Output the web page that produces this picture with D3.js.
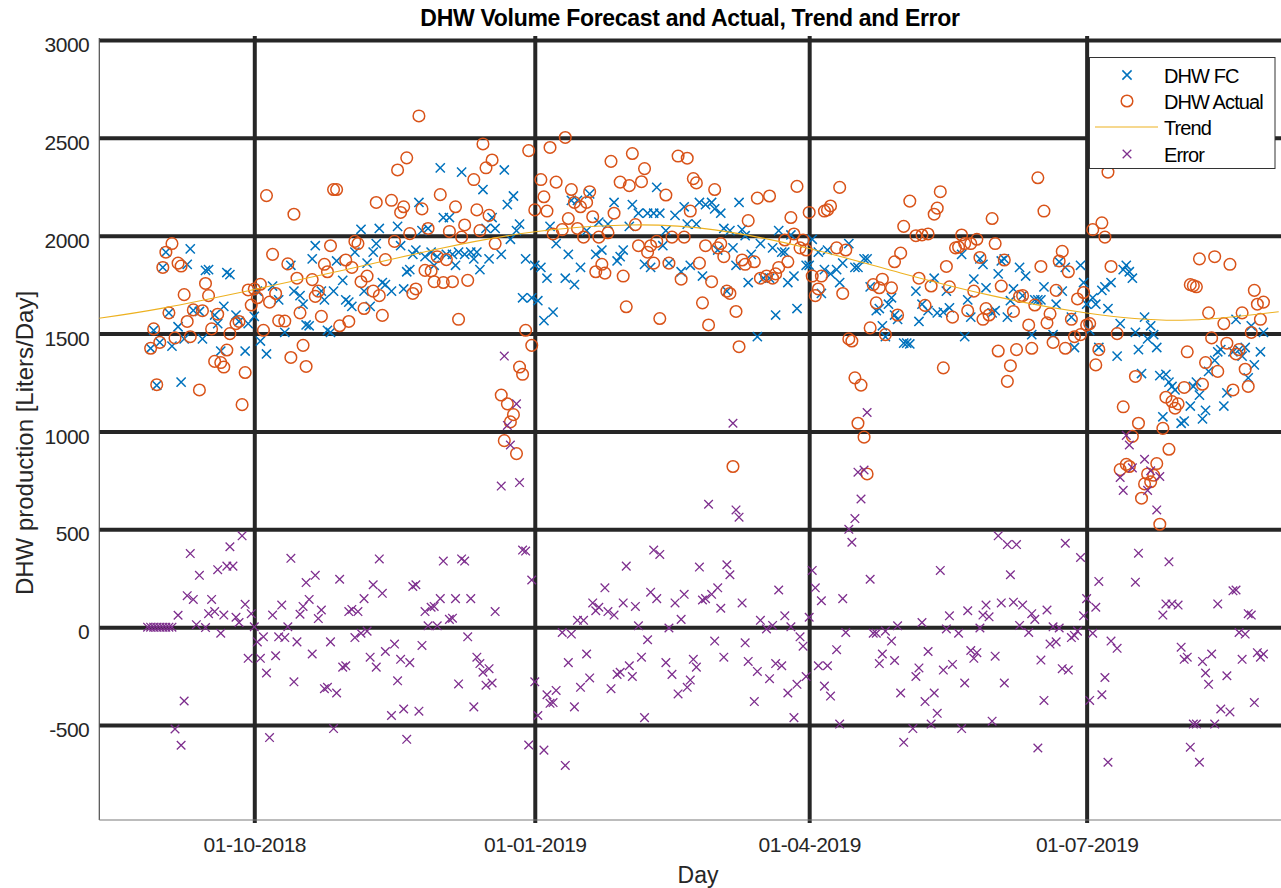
<!DOCTYPE html>
<html>
<head>
<meta charset="utf-8">
<script src="https://cdn.jsdelivr.net/npm/d3@7"></script>
<style>
  body { margin: 0; background: #fff; }
  text { font-family: "Liberation Sans", Arial, sans-serif; }
</style>
</head>
<body>
<svg id="chart" width="1281" height="888"></svg>
<script>
'use strict';

// day 0 of the series, and the axis limits
var startDay = new Date(2018, 7, 27);
var xLimits = [new Date(2018, 7, 11, 4), new Date(2019, 8, 2, 18)];
var yLimits = [-985, 3000];
var xTickDates = [new Date(2018, 9, 1), new Date(2019, 0, 1), new Date(2019, 3, 1), new Date(2019, 6, 1)];
var yTickValues = [-500, 0, 500, 1000, 1500, 2000, 2500, 3000];

// [day since startDay, liters/day]
var fcPoints = [
  [1,1425],[2,1517],[3,1236],[4,1455],[5,1838],[6,1916],[7,1606],[8,1436],[10,1535],[11,1252],[12,1473],[13,1854],[14,1933],[15,1619],[17,1613],[18,1473],[19,1823],[20,1827],[22,1595],[23,1551],[24,1411],[25,1639],[26,1812],[27,1801],[29,1595],[30,1562],[32,1411],[33,1551],[35,1588],[36,1717],[37,1462],[39,1396],[41,1743],[43,1672],[45,1506],[47,1849],[48,1717],[50,1694],[51,1650],[52,1544],[53,1540],[54,1882],[55,1949],[57,1717],[58,1672],[59,1517],[60,1506],[61,1717],[62,1871],
  [64,1772],[65,1672],[66,1661],[67,1639],[68,1916],[70,2033],[71,1717],[72,1860],[73,1639],[74,1916],[75,1960],[76,2037],[77,1761],[78,1750],[80,1717],[82,2048],[83,1949],[84,1728],[85,1816],[86,1827],[87,1905],[88,1927],[89,2170],[90,2026],[91,1893],[92,2037],[93,1916],[94,1849],[95,1893],[96,2347],[97,2093],[98,1905],[99,2093],[100,1905],[101,1849],[102,1916],[103,2325],[104,1905],[106,1916],[107,1882],[108,1916],[109,1827],[110,2236],[111,2037],[112,1882],[113,2093],[114,2037],[116,1905],[117,2336],[118,2159],[119,1982],[120,2203],[121,2026],[122,2059],[123,1683],[124,1882],
  [126,1683],[127,1849],[128,1668],[129,1838],[130,1566],[131,1783],[132,2048],[133,1610],[134,1960],[137,1783],[138,1905],[139,2181],[140,1750],[141,2181],[142,1838],[144,2026],[145,2214],[147,1905],[148,2070],[149,1927],[151,2059],[153,2170],[154,1871],[155,1893],[156,1927],[158,2048],[159,2159],[161,2115],[163,1854],[164,2115],[165,1838],[166,2115],[167,2247],[168,2115],[169,1949],[170,2026],[171,1860],[173,2104],[175,1816],[176,2148],[177,2059],[178,1849],[180,2059],[181,2170],[182,1794],[183,2159],[185,2170],[186,2137],[187,1927],
  [188,2115],[189,2037],[190,1717],[191,2026],[192,1938],[193,1849],[194,2170],[195,2031],[196,2000],[197,1761],[198,1905],[200,1484],[201,1960],[202,1783],[204,1783],[205,1938],[206,1595],[207,2026],[208,1916],[209,1916],[210,1761],[211,2004],[212,1794],[213,1628],[216,1849],[217,1849],[218,1982],[220,1916],[221,1705],[222,1827],[223,1927],[224,1805],[226,1827],[227,1761],[228,1860],[230,1960],[232,1838],[233,1838],[235,1882],[236,1882],[237,1739],[239,1617],[240,1628],[241,1540],[242,1484],[243,1650],[244,1683],[245,1595],[246,1573],[248,1451],[249,1451],
  [250,1447],[252,1717],[253,1562],[254,1650],[256,1617],[258,1783],[259,1606],[261,1610],[262,1717],[263,1632],[267,1905],[268,1484],[269,1672],[270,1584],[271,1778],[273,1882],[274,1854],[275,1734],[277,1606],[278,1617],[279,1805],[280,1871],[281,1882],[282,1584],[283,1668],[284,1728],[286,1838],[287,1694],[288,1794],[290,1495],[291,1672],[292,1672],[293,1672],[294,1739],[297,1495],[298,1650],[299,1867],[300,1717],[301,1838],[303,1584],[304,1429],[306,1849],[307,1761],[308,1650],[309,1517],[310,1683],
  [311,1650],[312,1429],[313,1721],[314,1739],[315,1628],[316,1761],[318,1385],[319,1551],[320,1827],[321,1849],[322,1816],[323,1783],[324,1506],[325,1418],[326,1296],[327,1584],[328,1473],[329,1540],[330,1495],[331,1429],[332,1285],[333,1075],[334,1292],[335,1252],[336,1230],[337,1212],[339,1042],[340,1053],[342,1130],[343,1230],[344,1252],[345,1186],[346,1064],[347,1108],[348,1307],[350,1363],[351,1407],[352,1418],[353,1130],[354,1197],[356,1407],[357,1573],[358,1418],[359,1385],[360,1429],[361,1274],[362,1540],[363,1340],[365,1407],[366,1506]
];

var actualPoints = [
  [1,1425],[2,1524],[3,1239],[4,1455],[5,1838],[6,1916],[7,1606],[8,1960],[9,1478],[10,1860],[11,1845],[12,1699],[13,1562],[14,1484],[15,1621],[17,1212],[18,1617],[19,1756],[20,1694],[21,1524],[22,1358],[23,1599],[24,1352],[25,1329],[26,1416],[27,1500],[29,1551],[30,1562],[31,1137],[32,1301],[33,1723],[34,1646],[35,1728],[36,1683],[37,1752],[38,1517],[39,2205],[40,1661],[41,1905],[42,1705],[43,1566],[45,1564],[46,1856],[47,1378],[48,2110],[49,1783],[50,1606],[51,1440],[52,1332],[54,1776],[55,1690],[56,1717],[57,1588],[58,1854],[59,1816],[60,1949],[61,2236],[62,2236],[63,1540],
  [65,1876],[66,1562],[67,1838],[68,1971],[69,1960],[70,1765],[71,1628],[72,1794],[74,1717],[75,2170],[76,1694],[77,1593],[78,1878],[80,2181],[81,1971],[82,2336],[83,2119],[84,2148],[85,2398],[86,2011],[87,1705],[88,1728],[89,2612],[90,2137],[91,1823],[92,2037],[93,1820],[94,1765],[95,1893],[96,2210],[97,1761],[98,1878],[99,2022],[100,1765],[101,2148],[102,1573],[103,1993],[104,2055],[105,1772],[107,2287],[108,2132],[109,2026],[110,2469],[111,2347],[112,2104],[113,2387],[114,1960],[116,1186],[117,953],[118,1141],[119,1049],[120,1086],[121,887],[122,1329],[123,1292],[124,1517],[125,2435],[126,1440],
  [127,2132],[129,2287],[130,2199],[131,2126],[132,2451],[133,2009],[134,2274],[136,2031],[137,2502],[138,2088],[139,2236],[140,2170],[141,2037],[142,2148],[143,1993],[144,2170],[145,2225],[146,2097],[147,1816],[148,1993],[149,1854],[150,1809],[151,2015],[152,2380],[153,2115],[155,2274],[156,1794],[157,1637],[158,2256],[159,2420],[160,2057],[161,1949],[162,2276],[163,2343],[164,1916],[165,1949],[166,1860],[167,1971],[168,1577],[170,2208],[171,1860],[172,1993],[174,2407],[175,1778],[176,1993],[177,2396],[178,2126],[179,2292],[180,2270],[181,1860],[182,1657],[183,1949],[184,1544],[185,1765],[186,2236],[187,1938],
  [188,1960],[189,1893],[190,1717],[191,1705],[192,821],[193,1613],[194,1433],[195,1876],[196,1854],[197,2077],[199,1867],[200,2192],[201,1783],[203,1794],[204,2203],[205,1783],[206,1805],[207,1838],[209,1978],[210,1867],[211,2093],[212,2009],[213,2252],[214,1938],[215,1978],[216,1927],[217,2119],[218,1794],[219,1694],[220,1728],[221,1794],[222,2126],[223,2132],[224,2152],[226,1938],[227,2247],[228,1705],[229,1927],[230,1473],[231,1462],[232,1274],[233,1042],[234,1237],[235,971],[236,783],[237,1529],[238,1750],[239,1657],[240,1734],[241,1778],[242,1495],[244,1734],[245,1867],[246,1595],[247,1911],[248,2048],
  [250,2177],[252,2000],[253,1783],[254,2004],[255,1644],[256,2009],[257,1743],[258,2110],[259,2141],[260,2225],[261,1325],[262,1843],[263,1739],[264,1584],[265,1938],[266,1942],[267,2004],[268,1960],[269,1617],[270,1960],[271,1717],[272,1982],[273,1889],[274,1573],[275,1628],[276,1595],[277,2088],[278,1960],[279,1411],[280,1743],[281,1876],[282,1256],[283,1336],[284,1613],[285,1418],[286,1690],[287,1694],[289,1544],[290,1425],[291,1646],[292,2296],[293,1843],[294,2126],[295,1555],[296,1601],[297,1455],[298,1721],[299,1871],[300,1920],[301,1425],[302,1816],[303,1573],[304,1484],[305,1677],[306,1495],[307,1710],[308,1544],[309,1551],[310,2031],[311,1340],[312,1418],
  [313,2066],[314,1993],[315,2325],[316,1843],[318,1500],[319,805],[320,1126],[321,832],[322,821],[323,975],[324,1281],[325,1042],[326,659],[327,732],[328,783],[329,743],[330,776],[331,836],[332,526],[333,1016],[334,1175],[335,909],[336,1153],[337,1119],[338,1141],[340,1225],[341,1407],[342,1750],[343,1745],[344,1739],[345,1882],[346,1241],[347,1352],[348,1606],[349,1478],[350,1893],[351,1307],[353,1551],[354,1451],[355,1854],[356,1212],[357,1396],[358,1418],[359,1606],[360,1318],[361,1230],[362,1506],[363,1721],[364,1650],[365,1573],[366,1661]
];

var errorPoints = [
  [0,0],[1,0],[2,0],[3,0],[4,0],[5,0],[6,0],[7,0],[8,0],[9,-520],[10,61],[11,-603],[12,-377],[13,161],[14,376],[15,142],[16,13],[17,265],[19,-2],[20,69],[21,142],[22,80],[23,294],[24,-31],[25,62],[26,312],[27,411],[28,312],[29,51],[30,24],[31,467],[32,117],[33,-159],[34,69],[35,2],[36,-75],[37,-159],[38,-49],[39,-234],[40,-564],[41,62],[42,-146],[43,-49],[44,113],[45,-53],[46,2],[47,352],[48,-279],[49,-75],[50,66],[51,106],[52,228],[53,142],[54,-137],[55,265],[56,44],[57,88],[58,-314],[59,-307],[60,-75],[61,-518],[62,-336],[63,245],
  [64,-204],[65,-197],[66,80],[67,91],[68,-53],[69,80],[70,-31],[71,146],[72,-20],[73,-153],[74,217],[75,-204],[76,349],[77,173],[78,-124],[80,-451],[81,-86],[82,-274],[83,-164],[84,-418],[85,-573],[86,-181],[87,208],[88,217],[89,-429],[90,-93],[91,80],[92,7],[93,102],[94,106],[95,7],[96,146],[97,338],[99,40],[100,46],[101,146],[102,-290],[103,349],[104,338],[105,-49],[106,146],[107,-407],[108,-153],[109,-186],[110,-230],[111,-296],[112,-212],[113,-285],[114,80],[116,721],[117,1385],[118,1031],[119,931],[121,1141],[122,739],[123,394],[124,389],
  [125,-602],[126,241],[127,-279],[128,-451],[130,-628],[131,-345],[132,-389],[133,-385],[134,-323],[136,-27],[137,-706],[138,-181],[139,-35],[140,-407],[141,35],[142,-307],[143,35],[144,-137],[145,-259],[146,124],[147,84],[148,102],[150,201],[151,80],[152,-314],[153,62],[154,-241],[155,-230],[156,124],[157,312],[158,-197],[159,-252],[160,106],[161,7],[162,-153],[163,-462],[164,-64],[165,179],[166,394],[167,146],[168,372],[170,-181],[171,-4],[172,-241],[173,124],[174,-341],[175,40],[176,168],[177,-307],[178,-270],[179,-164],[180,-204],[181,307],[182,139],[183,146],[184,628],[185,168],[186,-71],[187,201],
  [188,97],[189,-153],[190,319],[191,268],[192,1042],[193,599],[194,562],[195,124],[196,-80],[197,-175],[199,-380],[200,-226],[201,35],[203,-9],[204,-263],[205,9],[206,-186],[207,190],[208,-197],[209,58],[210,-336],[211,2],[212,-462],[213,-292],[214,-49],[215,-97],[216,-252],[217,51],[218,290],[219,201],[220,-197],[221,135],[222,-301],[223,-197],[224,-352],[226,-115],[227,-495],[228,146],[229,-27],[230,500],[231,434],[232,555],[233,792],[234,655],[235,803],[236,1097],[237,245],[238,-31],[239,-31],[240,-186],[241,-137],[242,-20],[244,-71],[245,-170],[246,7],[247,-336],[248,-588],
  [251,-518],[252,-252],[253,-208],[254,24],[255,-380],[256,-124],[257,-495],[258,-336],[259,-440],[260,290],[261,-219],[262,-9],[263,58],[264,-190],[266,-31],[267,-518],[268,-285],[269,84],[270,-119],[271,-159],[272,-130],[273,-4],[274,62],[275,113],[276,53],[277,-480],[278,-148],[279,467],[280,124],[281,-285],[282,422],[283,268],[284,128],[285,422],[286,9],[287,113],[289,-27],[290,69],[291,40],[292,-617],[293,-168],[294,-374],[295,88],[296,-86],[297,2],[298,-75],[299,-4],[300,-212],[301,429],[302,-219],[303,-53],[304,-42],[305,-20],[306,356],[307,58],[308,146],[309,-374],
  [310,-31],[311,102],[312,234],[313,-345],[314,-257],[315,-690],[316,-71],[318,-108],[319,765],[320,699],[321,980],[322,931],[323,814],[324,230],[325,378],[327,858],[328,699],[329,799],[331,599],[332,770],[333,62],[334,119],[335,334],[336,119],[338,113],[339,-102],[340,-164],[341,-153],[342,-613],[343,-495],[344,-495],[345,-690],[346,-175],[347,-234],[348,-292],[349,-137],[350,-495],[351,119],[352,-418],[354,-248],[355,-433],[356,186],[357,190],[358,-27],[359,-164],[360,-35],[361,69],[362,62],[363,-385],[364,-130],[365,-153],[366,-137]
];

// smooth trend, read at month starts
var trendDates = ["2018-08-11","2018-09-01","2018-10-01","2018-11-01","2018-12-01","2019-01-01","2019-02-01",
                  "2019-03-01","2019-04-01","2019-05-01","2019-06-01","2019-07-01","2019-08-01","2019-09-02"];
var trendValues = [1578, 1630, 1725, 1830, 1935, 2020, 2055, 2030, 1935, 1810, 1690, 1605, 1568, 1612];

var seriesNames = ["DHW FC", "DHW Actual", "Trend", "Error"];
var colors = { fc: "#0072BD", actual: "#D95319", trend: "#EDB120", error: "#7E2F8E" };

// plot box in pixels
var plotLeft = 99.3, plotRight = 1281, plotTop = 40, plotBottom = 820;

var svg = d3.select("#chart");

var x = d3.scaleTime().domain(xLimits).range([plotLeft, plotRight]);
var y = d3.scaleLinear().domain(yLimits).range([plotBottom, plotTop]);

var parseDay = d3.timeParse("%Y-%m-%d");
function dayToDate(d) { return d3.timeDay.offset(startDay, d); }

svg.append("rect").attr("width", 1281).attr("height", 888).attr("fill", "#fff");

svg.append("defs").append("clipPath").attr("id", "plotclip")
    .append("rect").attr("x", plotLeft).attr("y", plotTop - 4)
    .attr("width", plotRight - plotLeft).attr("height", plotBottom - plotTop + 4);

// thick grid lines come from the axes themselves
var yAxis = svg.append("g")
    .attr("transform", "translate(" + plotLeft + ",0)")
    .call(d3.axisLeft(y).tickValues(yTickValues)
        .tickFormat(function (d) { return String(d); })
        .tickSize(-(plotRight - plotLeft)).tickPadding(10));
yAxis.select(".domain").remove();
yAxis.selectAll("line").attr("stroke", "#262626").attr("stroke-width", 4);
yAxis.selectAll("text")
    .attr("dy", "0.55em")
    .style("font-size", "21px")
    .style("letter-spacing", "-0.5px")
    .attr("fill", "#262626");

var xAxis = svg.append("g")
    .attr("transform", "translate(0," + plotBottom + ")")
    .call(d3.axisBottom(x).tickValues(xTickDates).tickFormat(d3.timeFormat("%d-%m-%Y"))
        .tickSize(-(plotBottom - plotTop)).tickPadding(17));
xAxis.select(".domain").remove();
xAxis.selectAll("line")
    .attr("y1", 3).attr("y2", -(plotBottom - plotTop) - 4)
    .attr("stroke", "#262626").attr("stroke-width", 4);
xAxis.selectAll("text")
    .style("font-size", "21px")
    .style("letter-spacing", "-0.5px")
    .attr("fill", "#262626");

// axis box lines (left and bottom only)
svg.append("line").attr("x1", plotLeft).attr("x2", plotLeft).attr("y1", plotTop - 2).attr("y2", plotBottom)
    .attr("stroke", "#4d4d4d").attr("stroke-width", 1.2);
svg.append("line").attr("x1", plotLeft).attr("x2", plotRight).attr("y1", plotBottom).attr("y2", plotBottom)
    .attr("stroke", "#7a7a7a").attr("stroke-width", 1.2);

var plot = svg.append("g").attr("clip-path", "url(#plotclip)");

var crossPath = function (h) { return "M" + (-h) + "," + (-h) + "L" + h + "," + h + "M" + (-h) + "," + h + "L" + h + "," + (-h); };

plot.append("g").selectAll("path")
    .data(fcPoints).enter().append("path")
    .attr("d", crossPath(4.6))
    .attr("transform", function (d) { return "translate(" + x(dayToDate(d[0])) + "," + y(d[1]) + ")"; })
    .attr("fill", "none").attr("stroke", colors.fc).attr("stroke-width", 1.5);

plot.append("g").selectAll("circle")
    .data(actualPoints).enter().append("circle")
    .attr("cx", function (d) { return x(dayToDate(d[0])); })
    .attr("cy", function (d) { return y(d[1]); })
    .attr("r", 5.8)
    .attr("fill", "none").attr("stroke", colors.actual).attr("stroke-width", 1.5);

var trendLine = d3.line()
    .x(function (d) { return x(parseDay(d[0])); })
    .y(function (d) { return y(d[1]); })
    .curve(d3.curveNatural);

plot.append("path")
    .datum(d3.zip(trendDates, trendValues))
    .attr("d", trendLine)
    .attr("fill", "none").attr("stroke", colors.trend).attr("stroke-width", 1.1);

plot.append("g").selectAll("path")
    .data(errorPoints).enter().append("path")
    .attr("d", crossPath(4.3))
    .attr("transform", function (d) { return "translate(" + x(dayToDate(d[0])) + "," + y(d[1]) + ")"; })
    .attr("fill", "none").attr("stroke", colors.error).attr("stroke-width", 1.3);

// title and labels
svg.append("text")
    .attr("x", 690).attr("y", 26)
    .attr("text-anchor", "middle")
    .style("font-size", "23px").style("font-weight", "bold").style("letter-spacing", "-0.3px")
    .attr("fill", "#000")
    .text("DHW Volume Forecast and Actual, Trend and Error");

svg.append("text")
    .attr("transform", "translate(33,443) rotate(-90)")
    .attr("text-anchor", "middle")
    .style("font-size", "24px")
    .attr("fill", "#262626")
    .text("DHW production [Liters/Day]");

svg.append("text")
    .attr("x", 698).attr("y", 883)
    .attr("text-anchor", "middle")
    .style("font-size", "23px")
    .attr("fill", "#262626")
    .text("Day");

// legend
var legend = svg.append("g");
legend.append("rect")
    .attr("x", 1089.5).attr("y", 57.5).attr("width", 185.5).attr("height", 111)
    .attr("fill", "#fff").attr("stroke", "#333").attr("stroke-width", 1);

var rowY = [75, 101, 127, 154];
var symX = 1127;
legend.append("path").attr("d", crossPath(4.6)).attr("transform", "translate(" + symX + "," + rowY[0] + ")")
    .attr("fill", "none").attr("stroke", colors.fc).attr("stroke-width", 1.5);
legend.append("circle").attr("cx", symX).attr("cy", rowY[1]).attr("r", 5.8)
    .attr("fill", "none").attr("stroke", colors.actual).attr("stroke-width", 1.5);
legend.append("line").attr("x1", 1095).attr("x2", 1158).attr("y1", rowY[2]).attr("y2", rowY[2])
    .attr("stroke", colors.trend).attr("stroke-width", 1.1);
legend.append("path").attr("d", crossPath(4.3)).attr("transform", "translate(" + symX + "," + rowY[3] + ")")
    .attr("fill", "none").attr("stroke", colors.error).attr("stroke-width", 1.3);

legend.selectAll("text.entry")
    .data(seriesNames).enter().append("text")
    .attr("class", "entry")
    .attr("x", 1164)
    .attr("y", function (d, i) { return rowY[i] + 8; })
    .style("font-size", "20px").style("letter-spacing", "-0.9px")
    .attr("fill", "#000")
    .text(function (d) { return d; });
</script>
</body>
</html>
